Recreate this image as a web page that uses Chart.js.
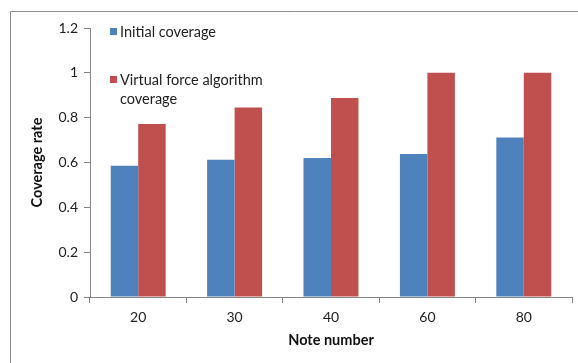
<!DOCTYPE html>
<html>
<head>
<meta charset="utf-8">
<script src="https://cdn.jsdelivr.net/npm/chart.js@4"></script>
<style>
  html, body { margin: 0; padding: 0; background: #fff; }
  #wrap { width: 578px; height: 363px; position: relative; }
</style>
</head>
<body>
<div id="wrap"><canvas id="myChart"></canvas></div>
<script>
// values
const categories = ['20', '30', '40', '60', '80'];
const initialCoverage = [0.586, 0.612, 0.62, 0.638, 0.711];
const virtualForceCoverage = [0.772, 0.845, 0.888, 1.0, 1.0];
const seriesNames = ['Initial coverage', ['Virtual force algorithm', 'coverage']];
const yTickLabels = ['0', '0.2', '0.4', '0.6', '0.8', '1', '1.2'];

const blue = '#4F81BD';
const red = '#C0504D';
const axisGray = '#868686';
const textFont = 'Lato, "Open Sans", sans-serif';

// outer frame (only left and top edges are visible in the picture)
const framePlugin = {
    id: 'frame',
    beforeDraw(chart) {
        const ctx = chart.ctx;
        ctx.save();
        ctx.strokeStyle = '#8c8c8c';
        ctx.lineWidth = 1;
        ctx.beginPath();
        ctx.moveTo(10.5, chart.height);
        ctx.lineTo(10.5, 11.5);
        ctx.lineTo(chart.width, 11.5);
        ctx.stroke();
        ctx.restore();
    }
};

// legend sits inside the plot, top left
const legendPlugin = {
    id: 'insideLegend',
    afterDraw(chart) {
        const ctx = chart.ctx;
        const x = chart.chartArea.left + 20;
        const rows = [32, 80];
        ctx.save();
        ctx.font = '14.5px ' + textFont;
        ctx.textBaseline = 'middle';
        chart.data.datasets.forEach(function (ds, i) {
            ctx.fillStyle = ds.backgroundColor;
            ctx.fillRect(x, rows[i] - 4, 7, 7);
            ctx.fillStyle = '#222';
            const lines = Array.isArray(ds.label) ? ds.label : [ds.label];
            lines.forEach(function (line, j) {
                ctx.fillText(line, x + 10, rows[i] + j * 19);
            });
        });
        ctx.restore();
    }
};

const ctx = document.getElementById('myChart').getContext('2d');
const myChart = new Chart(ctx, {
    type: 'bar',
    data: {
        labels: categories,
        datasets: [{
            label: seriesNames[0],
            data: initialCoverage,
            backgroundColor: blue
        }, {
            label: seriesNames[1],
            data: virtualForceCoverage,
            backgroundColor: red
        }]
    },
    options: {
        responsive: true,
        maintainAspectRatio: false,
        animation: false,
        layout: { padding: { left: 0, top: 28, right: 6, bottom: 0 } },
        datasets: { bar: { categoryPercentage: 0.57, barPercentage: 1 } },
        plugins: {
            legend: { display: false },
            tooltip: { enabled: false }
        },
        scales: {
            x: {
                afterFit(scale) { scale.height = 66; },
                grid: {
                    drawOnChartArea: false,
                    tickLength: 6,
                    color: axisGray
                },
                border: { color: axisGray },
                ticks: {
                    color: '#222',
                    padding: 6,
                    font: { family: textFont, size: 14 }
                },
                title: {
                    display: true,
                    text: 'Note number',
                    color: '#111',
                    font: { family: textFont, size: 14.5, weight: 'bold' },
                    padding: { top: 0, bottom: 14 }
                }
            },
            y: {
                min: 0,
                max: 1.2,
                afterFit(scale) { scale.width = 90; },
                grid: {
                    drawOnChartArea: false,
                    tickLength: 6,
                    color: axisGray
                },
                border: { color: axisGray },
                ticks: {
                    stepSize: 0.2,
                    color: '#222',
                    padding: 6,
                    font: { family: textFont, size: 14 },
                    callback: function (value, index) { return yTickLabels[index]; }
                },
                title: {
                    display: true,
                    text: 'Coverage rate',
                    color: '#111',
                    font: { family: textFont, size: 14.5, weight: 'bold' },
                    padding: { top: 29, bottom: 0 }
                }
            }
        }
    },
    plugins: [framePlugin, legendPlugin]
});
</script>
</body>
</html>
